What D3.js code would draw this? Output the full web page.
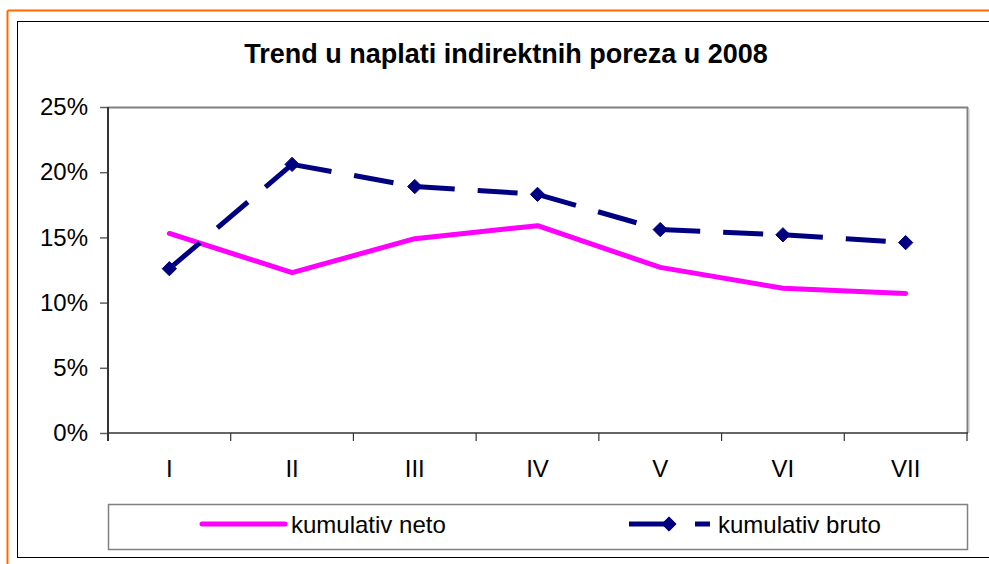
<!DOCTYPE html>
<html>
<head>
<meta charset="utf-8">
<script src="https://cdn.jsdelivr.net/npm/d3@7/dist/d3.min.js"></script>
<style>
  html, body { margin: 0; padding: 0; background: #fff; }
  svg { display: block; font-family: "Liberation Sans", Arial, sans-serif; }
</style>
</head>
<body>
<svg id="chart" width="989" height="564"></svg>
<script>
const title = "Trend u naplati indirektnih poreza u 2008";
const categories = ["I", "II", "III", "IV", "V", "VI", "VII"];
const seriesNames = ["kumulativ neto", "kumulativ bruto"];
const neto = [15.3, 12.3, 14.9, 15.9, 12.7, 11.1, 10.7];
const bruto = [12.6, 20.6, 18.9, 18.3, 15.6, 15.2, 14.6];
const yTicks = [0, 5, 10, 15, 20, 25];

const svg = d3.select("#chart");
const W = 989, H = 564;
const plot = { left: 108, top: 107, right: 967, bottom: 433 };

// outer frames
svg.append("line").attr("x1", 7.5).attr("x2", W).attr("y1", 10.5).attr("y2", 10.5)
  .attr("stroke", "#ff6a00").attr("stroke-width", 2);
svg.append("line").attr("x1", 7.5).attr("x2", 7.5).attr("y1", 10.5).attr("y2", H)
  .attr("stroke", "#ff6a00").attr("stroke-width", 2);
svg.append("rect").attr("x", 17.5).attr("y", 21.5).attr("width", W).attr("height", 536)
  .attr("fill", "none").attr("stroke", "#000").attr("stroke-width", 1);

// title
svg.append("text").attr("x", 506).attr("y", 63).attr("text-anchor", "middle")
  .attr("font-size", 27).attr("font-weight", "bold").attr("fill", "#000").text(title);

const x = d3.scaleBand().domain(categories).range([plot.left, plot.right]).padding(0);
const y = d3.scaleLinear().domain([0, 25]).range([plot.bottom, plot.top]);

// plot area border (top, right) with shadow
svg.append("line").attr("x1", plot.left).attr("x2", plot.right + 1).attr("y1", plot.top + 0.5).attr("y2", plot.top + 0.5)
  .attr("stroke", "#808080").attr("stroke-width", 2);
svg.append("line").attr("x1", plot.right + 0.5).attr("x2", plot.right + 0.5).attr("y1", plot.top).attr("y2", plot.bottom)
  .attr("stroke", "#808080").attr("stroke-width", 2);
svg.append("line").attr("x1", plot.right + 2).attr("x2", plot.right + 2).attr("y1", plot.top + 2).attr("y2", plot.bottom)
  .attr("stroke", "#c0c0c0").attr("stroke-width", 1);

// y axis
const yAxis = svg.append("g").attr("transform", `translate(${plot.left},0)`)
  .call(d3.axisLeft(y).tickValues(yTicks).tickSize(8).tickPadding(12).tickFormat(d => d + "%"));
yAxis.select(".domain").remove();
yAxis.selectAll(".tick line").attr("stroke", "#606060").attr("stroke-width", 1.5);
yAxis.selectAll(".tick text").attr("font-size", 24).attr("fill", "#000")
  .attr("font-family", "Liberation Sans, Arial, sans-serif");
svg.append("line").attr("x1", plot.left).attr("x2", plot.left).attr("y1", plot.top).attr("y2", plot.bottom + 8)
  .attr("stroke", "#333").attr("stroke-width", 2);

// x axis
const xAxis = svg.append("g").attr("transform", `translate(0,${plot.bottom})`)
  .call(d3.axisBottom(x).tickSize(0).tickPadding(27));
xAxis.select(".domain").remove();
xAxis.selectAll(".tick text").attr("font-size", 24).attr("fill", "#000")
  .attr("font-family", "Liberation Sans, Arial, sans-serif");
svg.append("line").attr("x1", plot.left).attr("x2", plot.right + 1).attr("y1", plot.bottom).attr("y2", plot.bottom)
  .attr("stroke", "#333").attr("stroke-width", 1.5);
const boundaries = categories.slice(1).map(c => x(c)).concat([plot.right]);
svg.selectAll(".xtick").data(boundaries).enter().append("line")
  .attr("x1", d => d).attr("x2", d => d).attr("y1", plot.bottom).attr("y2", plot.bottom + 8)
  .attr("stroke", "#333").attr("stroke-width", 1.2);

const cx = c => x(c) + x.bandwidth() / 2;
const NETO = "#ff00ff", BRUTO = "#000080";

// neto line
const line = d3.line().x((d, i) => cx(categories[i])).y(d => y(d));
svg.append("path").datum(neto).attr("d", line).attr("fill", "none")
  .attr("stroke", NETO).attr("stroke-width", 5).attr("stroke-linejoin", "round").attr("stroke-linecap", "round");

// bruto line, dash restarts per segment
for (let i = 0; i < bruto.length - 1; i++) {
  svg.append("path").datum([bruto[i], bruto[i + 1]])
    .attr("d", d3.line().x((d, j) => cx(categories[i + j])).y(d => y(d)))
    .attr("fill", "none").attr("stroke", BRUTO).attr("stroke-width", 5)
    .attr("stroke-dasharray", "40 23");
}
const diamond = d3.symbol().type(d3.symbolDiamond2).size(130);
svg.selectAll(".bm").data(bruto).enter().append("path")
  .attr("d", diamond)
  .attr("transform", (d, i) => `translate(${cx(categories[i])},${y(d)})`)
  .attr("fill", BRUTO).attr("stroke", BRUTO).attr("stroke-width", 1);

// legend
svg.append("rect").attr("x", 108.5).attr("y", 504.5).attr("width", 859).attr("height", 45)
  .attr("fill", "#fff").attr("stroke", "#808080").attr("stroke-width", 1.5);
const ly = 524;
svg.append("line").attr("x1", 202).attr("x2", 285).attr("y1", ly).attr("y2", ly)
  .attr("stroke", NETO).attr("stroke-width", 5).attr("stroke-linecap", "round");
svg.append("text").attr("x", 291).attr("y", ly + 8.5).attr("font-size", 24).attr("fill", "#000").text(seriesNames[0]);
svg.append("line").attr("x1", 629).attr("x2", 710).attr("y1", ly).attr("y2", ly)
  .attr("stroke", BRUTO).attr("stroke-width", 5).attr("stroke-dasharray", "40 26");
svg.append("path").attr("d", diamond).attr("transform", `translate(669,${ly})`)
  .attr("fill", BRUTO).attr("stroke", BRUTO).attr("stroke-width", 1);
svg.append("text").attr("x", 718).attr("y", ly + 8.5).attr("font-size", 24).attr("fill", "#000").text(seriesNames[1]);
</script>
</body>
</html>
